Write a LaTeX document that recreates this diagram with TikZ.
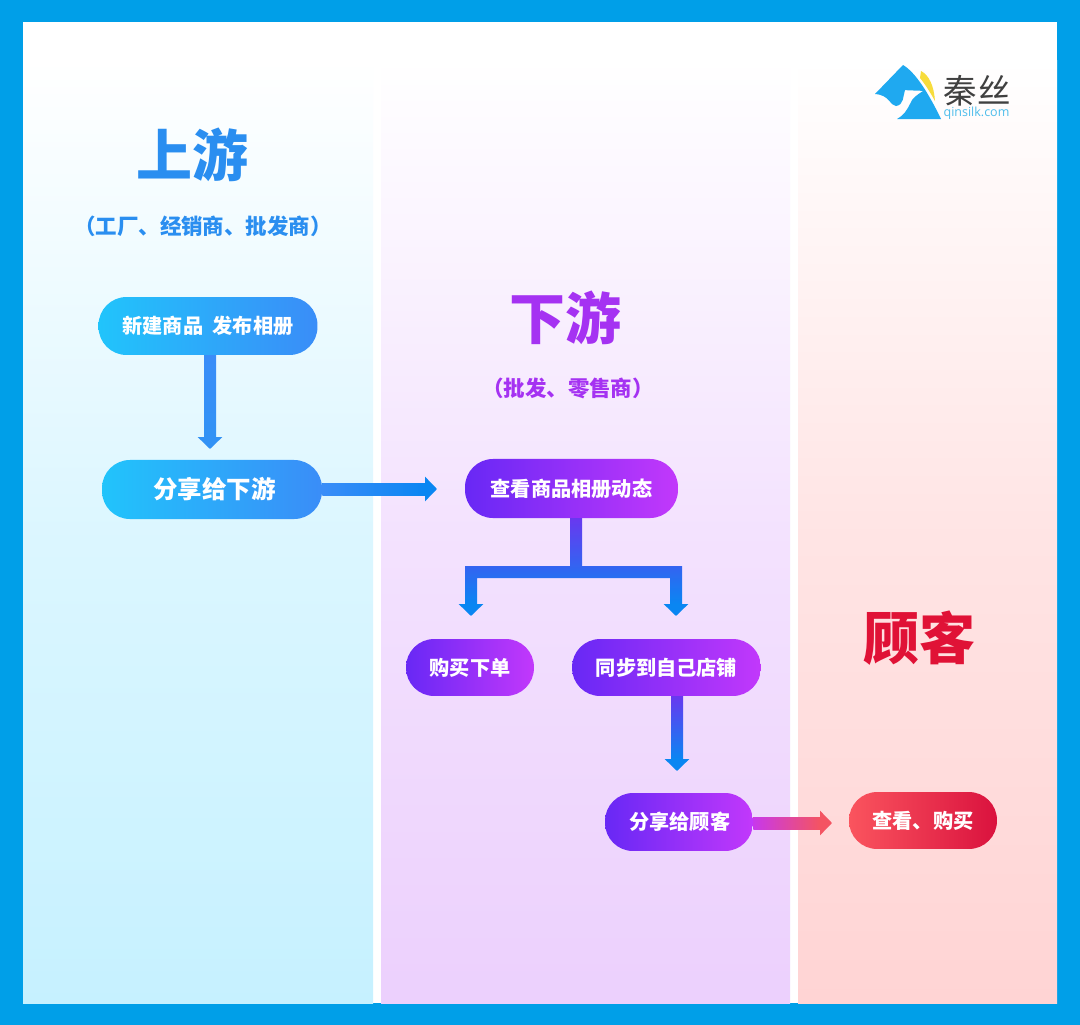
\documentclass[tikz,border=0pt]{standalone}
\usepackage{fontspec}
\setmainfont{Noto Sans CJK SC}
\newfontfamily\logofont{Open Sans}
\newfontfamily\cjkblack{Noto Sans CJK SC Black}
\usetikzlibrary{arrows.meta,calc}

\definecolor{frameblue}{HTML}{009FE8}
\definecolor{logoblue}{HTML}{1FA9F0}
\definecolor{logoyellow}{HTML}{F7DC3C}
\definecolor{logoweb}{HTML}{4DBDEB}
\definecolor{upcolor}{HTML}{2A8EF0}
\definecolor{downcolor}{HTML}{A532F2}
\definecolor{guestcolor}{HTML}{E01236}
\definecolor{upleft}{HTML}{21C4FB}
\definecolor{upright}{HTML}{3A8DF8}
\definecolor{downleft}{HTML}{6828F5}
\definecolor{downright}{HTML}{C238FB}
\definecolor{guestleft}{HTML}{FA545E}
\definecolor{guestright}{HTML}{DA123E}
\definecolor{flowblue}{HTML}{0A86F2}
\definecolor{flowmid}{HTML}{3292F5}
\definecolor{flowpurple}{HTML}{6838F0}
\definecolor{flowpink}{HTML}{C838EB}
\definecolor{flowred}{HTML}{F45462}
\definecolor{upbottom}{HTML}{C6F1FF}
\definecolor{downbottom}{HTML}{ECD0FD}
\definecolor{guestbottom}{HTML}{FFD4D4}

\newcommand{\sized}[1]{\pgfmathsetmacro\sizedpt{#1*0.569}\fontsize{\sizedpt}{\sizedpt}\selectfont}

\tikzset{
	pill/.style = {rounded corners = 0.56cm, text = white, font = \bfseries\sized{20.2}, inner sep = 0pt},
	uppill/.style = {pill, left color = upleft, right color = upright},
	downpill/.style = {pill, left color = downleft, right color = downright},
	guestpill/.style = {pill, left color = guestleft, right color = guestright},
	flowline/.style = {line width = 6.83pt, -{Triangle[width = 13.66pt, length = 6.83pt]}},
	title/.style = {font = \cjkblack\sized{56}, inner sep = 0pt},
	subtitle/.style = {font = \bfseries\sized{21.5}, inner sep = 0pt},
}

\begin{document}
\begin{tikzpicture}[x = 0.02cm, y = -0.02cm]
	\useasboundingbox (0,0) rectangle (1080,1025);

	% frame and columns
	\fill [frameblue] (0,0) rectangle (1080,1025);
	\fill [white] (23,22) rectangle (1057,1003);
	\shade [top color = white, bottom color = upbottom, middle color = upbottom!62!white] (23,60) rectangle (373,1003);
	\shade [top color = white, bottom color = downbottom, middle color = downbottom!62!white] (381,60) rectangle (790,1003);
	\shade [top color = white, bottom color = guestbottom, middle color = guestbottom!62!white] (798,60) rectangle (1057,1003);

	% logo
	\fill [logoyellow] (921,71) .. controls (929,75) and (934,86) .. (935,101) .. controls (930,92) and (925,84) .. (920,78) -- cycle;
	\fill [logoblue] (903,65) .. controls (915,72) and (928,92) .. (941,119) -- (897,119) .. controls (904,115) and (907,110) .. (910,104) .. controls (912,98) and (917,95) .. (923,91) .. controls (917,90) and (910,91) .. (905,90) .. controls (903,96) and (904,105) .. (896,106) .. controls (890,106) and (890,95) .. (875,94) -- cycle;
	\node (logoname) at (977,91) [text = black!75, inner sep = 0pt, font = \sized{33.5}] {秦丝};
	\node (logosite) at (976.5,113) [text = logoweb, inner sep = 0pt, font = \logofont\sized{12.5}] {qinsilk.com};

	% titles
	\node (up) at (192,155) [title, text = upcolor] {上游};
	\node (uphint) at (203,226) [subtitle, text = upcolor] {（工厂、经销商、批发商）};
	\node (down) at (565,318) [title, text = downcolor] {下游};
	\node (downhint) at (568,388) [subtitle, text = downcolor] {（批发、零售商）};
	\node (guest) at (919,638) [title, text = guestcolor] {顾客};

	% nodes
	\node (new) at (208,326) [uppill, minimum width = 124.6pt, minimum height = 33pt] {新建商品\ \ 发布相册};
	\node (share) at (212,489.5) [uppill, minimum width = 125.2pt, minimum height = 33.6pt, font = \bfseries\sized{24.5}] {\hspace{3pt}分享给下游};
	\node (view) at (571.5,488.5) [downpill, minimum width = 121.2pt, minimum height = 33.6pt] {查看商品相册动态};
	\node (buy) at (470,667.5) [downpill, minimum width = 72.8pt, minimum height = 32.4pt] {购买下单};
	\node (sync) at (666.5,667.5) [downpill, minimum width = 107.5pt, minimum height = 32.4pt] {同步到自己店铺};
	\node (sharec) at (679,822) [downpill, minimum width = 84.2pt, minimum height = 33pt] {\hspace{1pt}分享给顾客};
	\node (check) at (923,820.5) [guestpill, minimum width = 84.2pt, minimum height = 32.4pt] {查看、购买};

	% connectors, tip colour first and the shaded shaft on top
	\coordinate (tipnew) at (210,449);
	\coordinate (tipshare) at (437,489);
	\coordinate (forktop) at (576,518);
	\coordinate (forkmid) at (576,572);
	\coordinate (tipbuy) at (471,616);
	\coordinate (tipsync) at (676,616);
	\coordinate (tipsyncdown) at (677,771);
	\coordinate (tipcheck) at (832,823);

	\draw [flowline, flowmid] (new.south -| tipnew)--(tipnew);
	\shade [top color = upright, bottom color = flowmid] ($(new.south -| tipnew)+(-6,0)$) rectangle ($(tipnew)+(6,-12)$);

	\draw [flowline, flowblue] (share.east |- tipshare)--(tipshare);
	\shade [left color = upright, right color = flowblue] ($(share.east |- tipshare)+(0,-6)$) rectangle ($(tipshare)+(-12,6)$);

	\draw [flowline, flowblue] (forktop)--(forkmid)-|(tipbuy);
	\draw [flowline, flowblue] (forktop)--(forkmid)-|(tipsync);
	\shade [top color = flowpurple, bottom color = flowblue] (570,518) rectangle (582,572) (465,566) rectangle (682,578) (465,572) rectangle (477,604) (670,572) rectangle (682,604);

	\draw [flowline, flowblue] (sync.south -| tipsyncdown)--(tipsyncdown);
	\shade [top color = flowpurple, bottom color = flowblue] ($(sync.south -| tipsyncdown)+(-6,0)$) rectangle ($(tipsyncdown)+(6,-12)$);

	\draw [flowline, flowred] (sharec.east |- tipcheck)--(tipcheck);
	\shade [left color = flowpink, right color = flowred] ($(sharec.east |- tipcheck)+(0,-6)$) rectangle ($(tipcheck)+(-12,6)$);
\end{tikzpicture}
\end{document}
